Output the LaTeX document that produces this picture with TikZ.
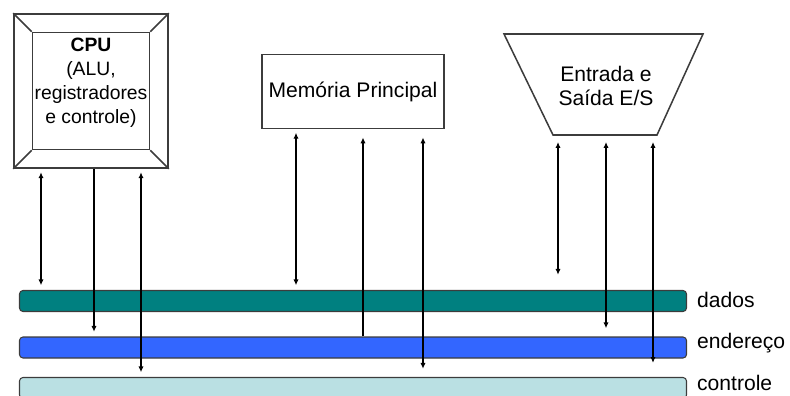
\documentclass[tikz,border=0pt]{standalone}
\usepackage{fontspec}
\setmainfont{Liberation Sans}
\usetikzlibrary{arrows.meta,positioning,calc}

\definecolor{busdados}{RGB}{0,128,128}
\definecolor{busend}{RGB}{51,102,255}
\definecolor{busctrl}{RGB}{186,224,227}
\definecolor{edge}{RGB}{60,60,60}

\begin{document}
\begin{tikzpicture}[
  x=0.03cm, y=-0.03cm,
  font=\fontsize{18}{20.5}\selectfont,
  box/.style={draw=edge,line width=1.3pt,inner sep=0pt},
  bus/.style={draw=edge,line width=0.9pt,rounded corners=3pt,
              minimum width=20.01cm,minimum height=0.63cm,inner sep=0pt},
  arr/.style={-{Latex[length=5pt,width=4.5pt]},line width=1.2pt},
  darr/.style={{Latex[length=5pt,width=4.5pt]}-{Latex[length=5pt,width=4.5pt]},line width=1.2pt},
  lbl/.style={anchor=west}
]
\useasboundingbox (0,0) rectangle (790,396);

% CPU
\node[box,minimum size=4.62cm] (cpu) at (91,91) {};
\node[box,minimum size=3.51cm] (cpuin) at (91,91) {};
\draw[edge,line width=1.3pt] (cpu.north west) -- (cpuin.north west)
  (cpu.north east) -- (cpuin.north east)
  (cpu.south west) -- (cpuin.south west)
  (cpu.south east) -- (cpuin.south east);
\node[align=center,font=\fontsize{16.5}{20.5}\selectfont] (cputxt) at (91,83)
  {\textbf{CPU}\\(ALU,\\registradores\\e controle)};

% Memoria principal
\node[box,minimum width=5.46cm,minimum height=2.22cm] (mem) at (353,91.5)
  {Memória Principal};

% Entrada e saida
\coordinate (es-nw) at (504,34);
\coordinate (es-ne) at (703,34);
\coordinate (es-se) at (657,135);
\coordinate (es-sw) at (553,135);
\draw[edge,line width=1.3pt] (es-nw) -- (es-ne) -- (es-se) -- (es-sw) -- cycle;
\node[align=center] (es) at (606,86) {Entrada e\\Saída E/S};

% Barramentos
\node[bus,fill=busdados] (dados) at (353,301) {};
\node[bus,fill=busend]   (ender) at (353,347.5) {};
\node[bus,fill=busctrl]  (ctrl)  at (353,388) {};
\node[lbl] (ldados) at (693,300) {dados};
\node[lbl] (lender) at (693,343) {endereço};
\node[lbl] (lctrl)  at (693,383) {controle};

% x das ligacoes
\coordinate (x1) at (41,0);  \coordinate (x2) at (94,0);  \coordinate (x3) at (141,0);
\coordinate (x4) at (296,0); \coordinate (x5) at (363,0); \coordinate (x6) at (423,0);
\coordinate (x7) at (558,0); \coordinate (x8) at (606,0); \coordinate (x9) at (653,0);

% CPU <-> barramentos
\draw[darr,shorten <=3pt,shorten >=4pt] (x1 |- cpu.south) -- (x1 |- dados.north);
\draw[arr,shorten >=4pt] (x2 |- cpu.south) -- (x2 |- ender.north);
\draw[darr,shorten <=3pt,shorten >=4pt] (x3 |- cpu.south) -- (x3 |- ctrl.north);

% Memoria <-> barramentos
\draw[darr,shorten <=3pt,shorten >=4pt] (x4 |- mem.south) -- (x4 |- dados.north);
\draw[arr,shorten >=7pt] (x5 |- ender.north) -- (x5 |- mem.south);
\draw[darr,shorten <=7pt,shorten >=7pt] (x6 |- mem.south) -- (x6 |- ctrl.north);

% E/S <-> barramentos
\draw[darr,shorten <=6pt,shorten >=13pt] (x7 |- es-sw) -- (x7 |- dados.north);
\draw[darr,shorten <=6pt,shorten >=7pt] (x8 |- es-sw) -- (x8 |- ender.north);
\draw[darr,shorten <=6pt,shorten >=12pt] (x9 |- es-sw) -- (x9 |- ctrl.north);

\end{tikzpicture}
\end{document}
